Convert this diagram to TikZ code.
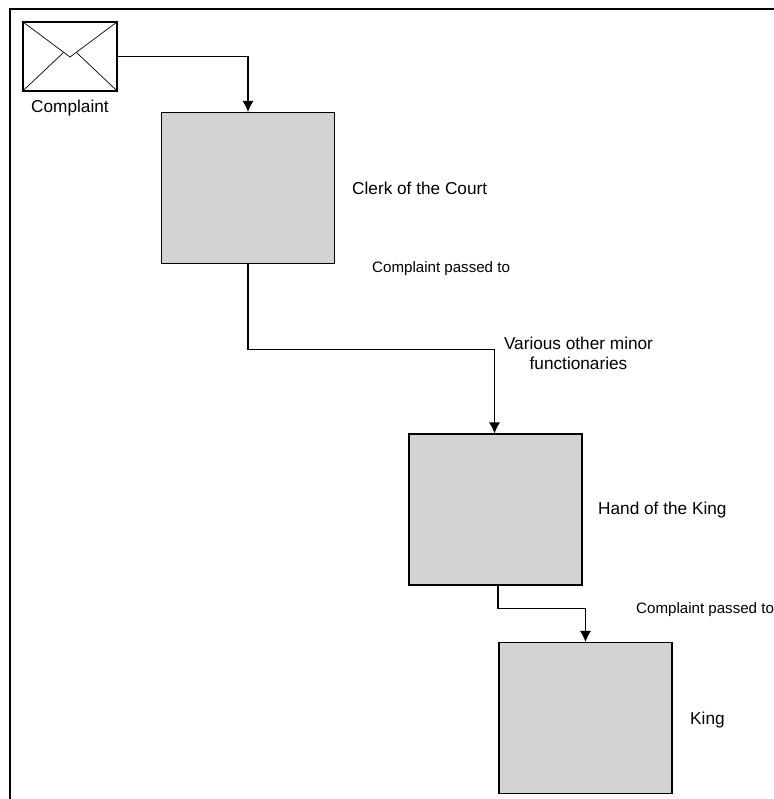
\documentclass[tikz,border=0pt]{standalone}
\usepackage{fontspec}
\setmainfont{Liberation Sans}
\usetikzlibrary{arrows.meta,positioning}
\definecolor{boxgrey}{RGB}{209,211,212}
\tikzset{
    % arrow tip
    >={Latex[length=0.22cm,width=0.22cm]},
    % connector
    pil/.style={
           ->,
           semithick},
    % grey squares
    office/.style={
           draw,
           semithick,
           fill=boxgrey,
           inner sep=0pt,
           minimum width=3.46cm,
           minimum height=3.02cm},
    lbl/.style={font=\fontsize{9.8}{11.5}\selectfont},
    small/.style={font=\fontsize{8.6}{11}\selectfont}
}

\begin{document}
\begin{tikzpicture}
\useasboundingbox (0,0) rectangle (15.48,-15.98);
\draw[semithick] (0.2,-15.98) -- (0.2,-0.18) -- (15.48,-0.18);

% envelope
\node[draw, very thick, inner sep=0pt, minimum width=1.88cm, minimum height=1.37cm] (mail) at (1.40,-1.13) {};
\draw (mail.north west) -- (1.40,-1.14) -- (mail.north east);
\draw (mail.south west) -- (1.27,-1.05);
\draw (mail.south east) -- (1.53,-1.05);
\node[lbl, below=0.04cm of mail] (complaint) {Complaint};

% offices
\node[office] (clerk) at (4.96,-3.76) {};
\node[office] (hand) at (9.91,-10.19) {};
\node[office] (king) at (11.71,-14.36) {};

\node[lbl, anchor=west] (clerklbl) at (6.92,-3.76) {Clerk of the Court};
\node[lbl, anchor=west] (handlbl) at (11.84,-10.2) {Hand of the King};
\node[lbl, anchor=west] (kinglbl) at (13.68,-14.41) {King};
\node[lbl, align=center] (minor) at (11.57,-7.06) {Various other minor\\functionaries};
\node[small, anchor=west] (pass1) at (7.32,-5.37) {Complaint passed to};
\node[small, anchor=west] (pass2) at (12.6,-12.19) {Complaint passed to};

% connectors
\draw[pil] (mail.east) -| (clerk.north);
\draw[pil] (clerk.south) -- ++(0,-1.7) -| ([xshift=-0.02cm]hand.north);
\draw[pil] ([xshift=0.05cm]hand.south) -- ++(0,-0.46) -| (king.north);
\end{tikzpicture}
\end{document}
